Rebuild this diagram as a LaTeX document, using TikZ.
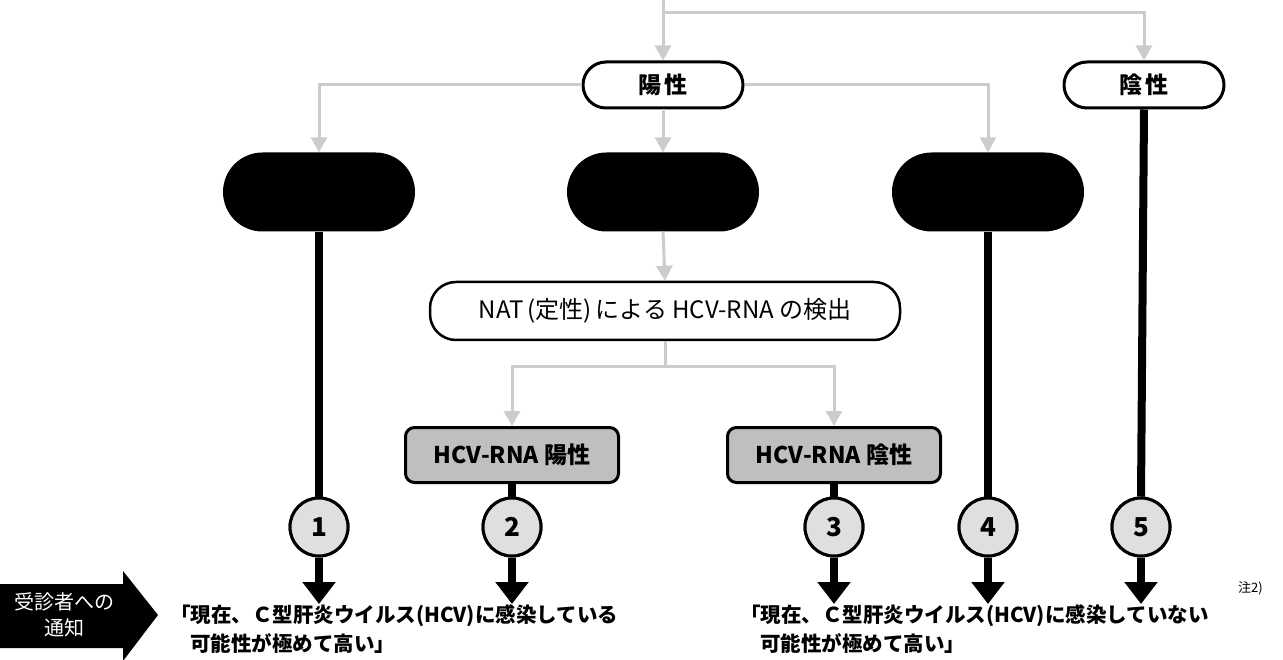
\documentclass[tikz,border=0pt]{standalone}
\usepackage{fontspec}
\setmainfont{Noto Sans CJK JP}
\usetikzlibrary{shapes.misc,arrows.meta}
\begin{document}
\begin{tikzpicture}[x=1pt,y=-1pt,
  result/.style={rounded rectangle, draw, line width=3pt, fill=white, minimum width=160pt, minimum height=46pt, inner sep=0pt, font=\bfseries\fontsize{23pt}{26pt}\selectfont},
  blackpill/.style={rounded rectangle, fill=black, minimum width=192pt, minimum height=79pt, inner sep=0pt},
  natbox/.style={draw, line width=2.5pt, rounded corners=26pt, fill=white, minimum width=470pt, minimum height=58pt, inner sep=0pt, font=\fontsize{24pt}{28pt}\selectfont},
  rnabox/.style={draw, line width=3pt, rounded corners=9pt, fill=gray!50, minimum width=213pt, minimum height=55pt, inner sep=0pt, font=\bfseries\fontsize{23pt}{26pt}\selectfont},
  num/.style={circle, draw, line width=3pt, fill=gray!25, minimum size=58pt, inner sep=0pt, font=\bfseries\fontsize{26pt}{28pt}\selectfont},
  gline/.style={draw=gray!40, line width=3pt},
  garrow/.style={gline, -{Triangle[width=16pt,length=15pt]}},
  bline/.style={line width=8pt},
  barrow/.style={line width=8pt, -{Triangle[width=32pt,length=22pt]}},
  msg/.style={anchor=west, inner sep=0pt, font=\bfseries\fontsize{20.5pt}{24pt}\selectfont},
  notice/.style={text=white, inner sep=0pt, font=\fontsize{20pt}{22pt}\selectfont}
]
\useasboundingbox (0,0) rectangle (1283,660);
% nodes
\node[result] (yo) at (663,85) {陽\,性};
\node[result] (in) at (1144,85) {陰\,性};
\node[blackpill] (p1) at (319,192) {};
\node[blackpill] (p2) at (663,192) {};
\node[blackpill] (p3) at (988,192) {};
\node[natbox] (nat) at (665,311) {NAT\,(定性)\,による HCV-RNA の検出};
\node[rnabox] (r1) at (512,455) {HCV-RNA 陽性};
\node[rnabox] (r2) at (834,455) {HCV-RNA 陰性};
\node[num] (c1) at (319,527) {1};
\node[num] (c2) at (512,527) {2};
\node[num] (c3) at (834,527) {3};
\node[num] (c4) at (988,527) {4};
\node[num] (c5) at (1141,527) {5};
% coordinates
\coordinate (top) at (663,0);
\coordinate (split) at (663,13);
\coordinate (e1) at (319,604);
\coordinate (e2) at (512,604);
\coordinate (e3) at (834,604);
\coordinate (e4) at (988,604);
\coordinate (e5) at (1141,604);
% gray connectors
\draw[garrow] (top) -- (yo.north);
\draw[garrow] (split) -| (in.north);
\draw[garrow] (yo.west) -| (p1.north);
\draw[garrow] (yo.east) -| (p3.north);
\draw[garrow] (yo.south) -- (p2.north);
\draw[garrow] (p2.south) -- (nat.north);
\draw[garrow] (nat.south) -- ++(0,25) -| (r1.north);
\draw[garrow] (nat.south) -- ++(0,25) -| (r2.north);
% black connectors
\draw[bline] (p1.south) -- (c1.north);
\draw[bline] (r1.south) -- (c2.north);
\draw[bline] (r2.south) -- (c3.north);
\draw[bline] (p3.south) -- (c4.north);
\draw[bline] (in.south) -- (c5.north);
\draw[barrow] (c1.south) -- (e1);
\draw[barrow] (c2.south) -- (e2);
\draw[barrow] (c3.south) -- (e3);
\draw[barrow] (c4.south) -- (e4);
\draw[barrow] (c5.south) -- (e5);
% redraw circles on top
\node[num] at (c1) {1};
\node[num] at (c2) {2};
\node[num] at (c3) {3};
\node[num] at (c4) {4};
\node[num] at (c5) {5};
% left block arrow
\fill (0,584) -- (123,584) -- (123,571) -- (158,615) -- (123,661) -- (123,648) -- (0,648) -- cycle;
\node[notice] (n1) at (64,602) {受診者への};
\node[notice] (n2) at (64,628) {通知};
% messages
\node[msg] (m1) at (170,616) {「現在、Ｃ型肝炎ウイルス(HCV)に感染している};
\node[msg] (m2) at (190,643) {可能性が極めて高い」};
\node[msg] (m3) at (740,616) {「現在、Ｃ型肝炎ウイルス(HCV)に感染していない};
\node[msg] (m4) at (760,643) {可能性が極めて高い」};
\node[anchor=west, inner sep=0pt, font=\fontsize{13pt}{15pt}\selectfont] (note) at (1238,588) {注2)};
\end{tikzpicture}
\end{document}
